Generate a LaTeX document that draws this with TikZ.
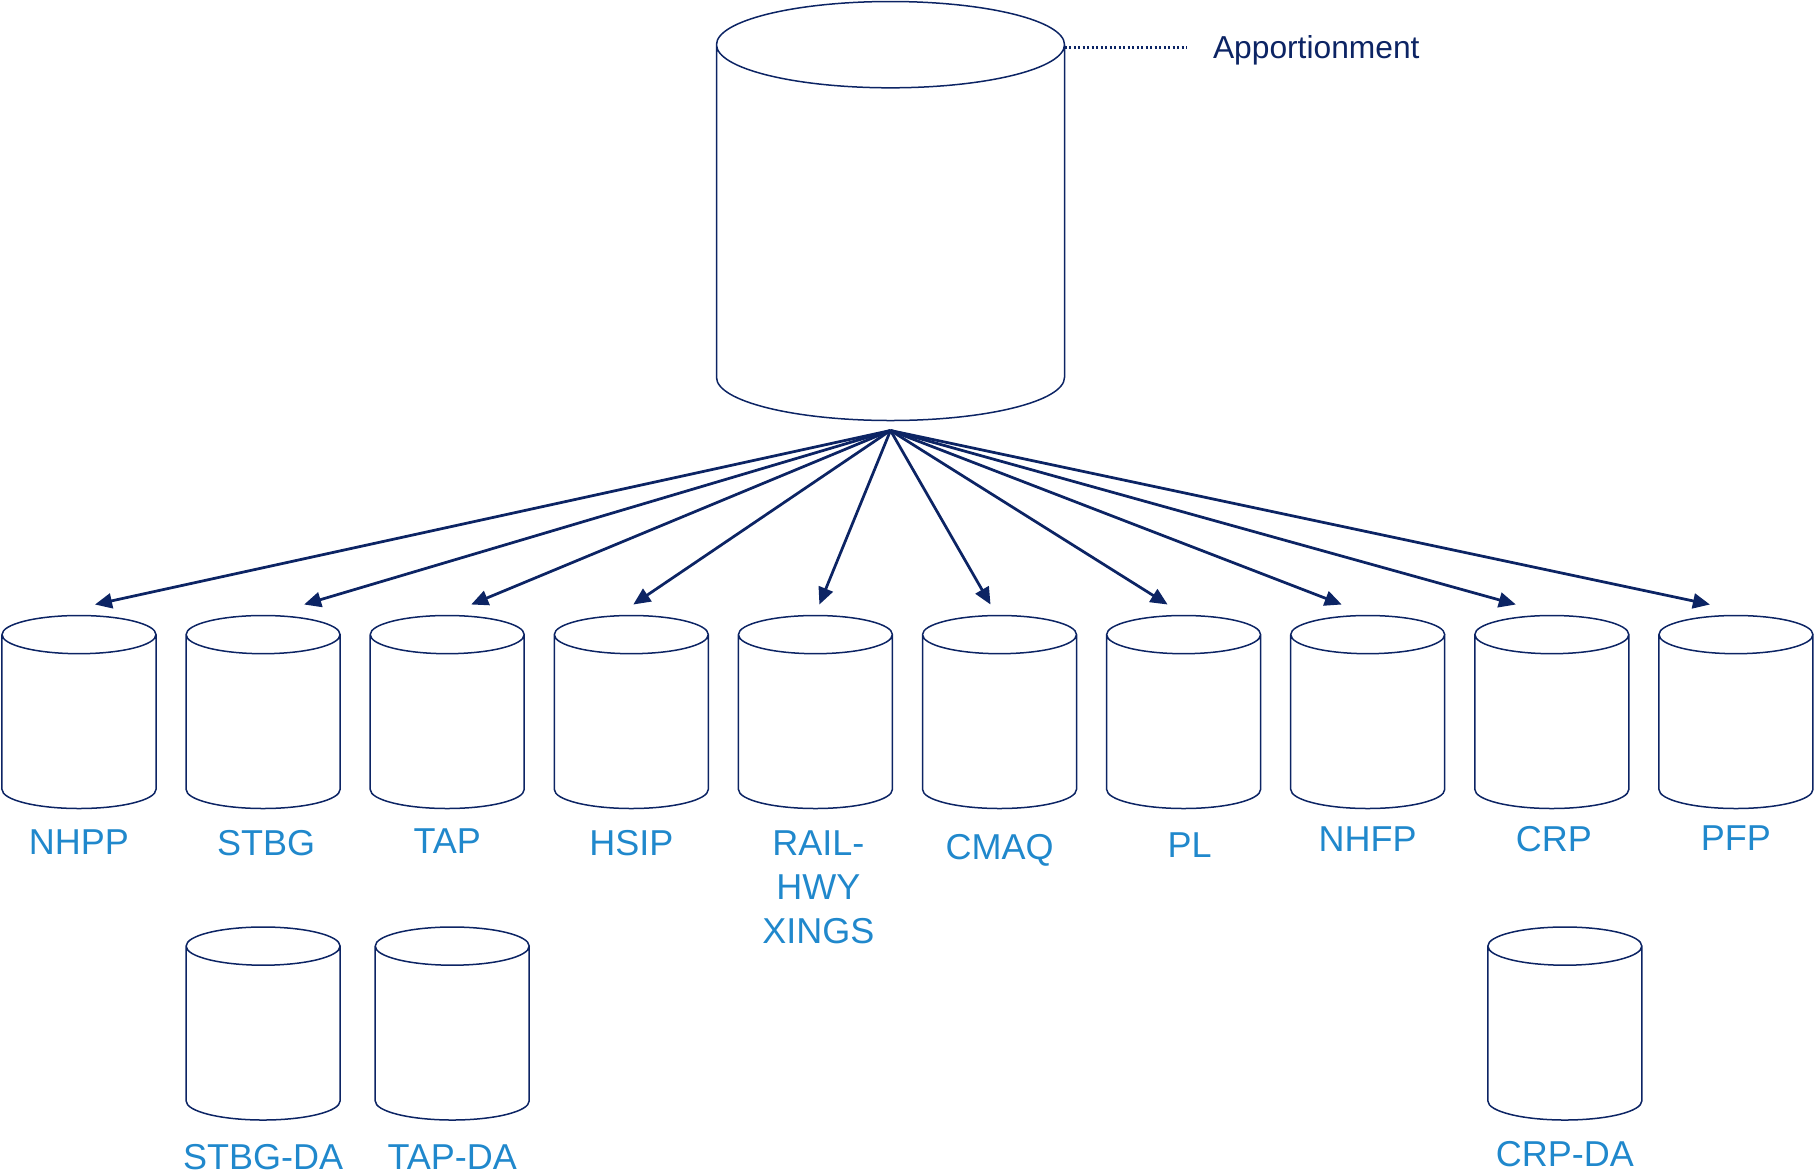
\documentclass[tikz,border=0pt]{standalone}
\usepackage{fontspec}
\setmainfont{Liberation Sans}
\usetikzlibrary{arrows.meta,positioning,calc}

\definecolor{navy}{HTML}{0C2464}
\definecolor{progblue}{HTML}{2088CC}

\begin{document}
\begin{tikzpicture}[x=0.4pt,y=-0.4pt,>={Triangle[length=6.8pt,width=6pt]},
    drum/.style={rectangle,inner sep=0pt,minimum width=61.2pt,minimum height=76.8pt},
    big drum/.style={drum,minimum width=138.8pt,minimum height=167.2pt},
    outline/.style={draw=navy,line width=0.6pt},
    prog/.style={text=progblue,font=\fontsize{14.4}{17.6}\selectfont,inner sep=0pt,align=center},
    feed/.style={->,draw=navy,line width=1.1pt},
    leader/.style={draw=navy,line width=0.9pt,dash pattern=on 0.9pt off 0.9pt}]

  \useasboundingbox (0,0) rectangle (1814,1174);

  % source of all programs
  \node[big drum] (appt) at (890.5,211) {};
  \coordinate (appt-rim) at ([yshift=-18.4pt]appt.north east);
  \node[inner sep=0pt,text=navy,font=\fontsize{12.7}{15}\selectfont,
        right=59.2pt of appt-rim,yshift=-1.2pt] (appt-lbl) {Apportionment};
  \draw[leader,shorten >=10.4pt] (appt-rim) -- (appt-rim -| appt-lbl.west);
  \coordinate (src) at ([yshift=-4pt]appt.south);

  % program row
  \node[drum] (nhpp) at (79,712) {};
  \node[drum,on grid,right=73.64pt of nhpp] (stbg) {};
  \node[drum,on grid,right=73.64pt of stbg] (tap) {};
  \node[drum,on grid,right=73.64pt of tap] (hsip) {};
  \node[drum,on grid,right=73.64pt of hsip] (rail) {};
  \node[drum,on grid,right=73.64pt of rail] (cmaq) {};
  \node[drum,on grid,right=73.64pt of cmaq] (pl) {};
  \node[drum,on grid,right=73.64pt of pl] (nhfp) {};
  \node[drum,on grid,right=73.64pt of nhfp] (crp) {};
  \node[drum,on grid,right=73.64pt of crp] (pfp) {};

  \node[prog,below=8.4pt of nhpp] (nhpp-lbl) {NHPP};
  \node[prog,below=8.4pt of stbg,xshift=1.2pt] (stbg-lbl) {STBG};
  \node[prog,below=8pt of tap] (tap-lbl) {TAP};
  \node[prog,below=8.4pt of hsip] (hsip-lbl) {HSIP};
  \node[prog,below=8.8pt of rail,xshift=1.2pt] (rail-lbl) {RAIL-\\HWY\\XINGS};
  \node[prog,below=10pt of cmaq] (cmaq-lbl) {CMAQ};
  \node[prog,below=9.6pt of pl,xshift=2.4pt] (pl-lbl) {PL};
  \node[prog,below=7.2pt of nhfp] (nhfp-lbl) {NHFP};
  \node[prog,below=6.8pt of crp,xshift=0.8pt] (crp-lbl) {CRP};
  \node[prog,below=6.8pt of pfp] (pfp-lbl) {PFP};

  % discretionary
  \node[drum,on grid,below=124.6pt of stbg] (stbg-da) {};
  \node[drum,on grid,below=124.6pt of tap,xshift=2pt] (tap-da) {};
  \node[drum,on grid,below=124.6pt of crp,xshift=5.2pt] (crp-da) {};

  \node[prog,below=9.6pt of stbg-da] (stbg-da-lbl) {STBG-DA};
  \node[prog,below=9.6pt of tap-da] (tap-da-lbl) {TAP-DA};
  \node[prog,below=8.4pt of crp-da] (crp-da-lbl) {CRP-DA};

  % the drums themselves
  \foreach \d in {appt,nhpp,stbg,tap,hsip,rail,cmaq,pl,nhfp,crp,pfp,stbg-da,tap-da,crp-da}
    \draw[outline] let \p1=(\d.north west),\p2=(\d.south east),
        \n1={(\x2-\x1)/2},\n2={0.248*\n1} in
      (\x1,\y1-\n2) arc[start angle=180,end angle=540,x radius=\n1,y radius=\n2]
      (\x1,\y1-\n2) -- (\x1,\y2+\n2) arc[start angle=180,end angle=360,x radius=\n1,y radius=\n2]
      -- (\x2,\y1-\n2);

  \foreach \n/\dx in {nhpp/16,stbg/41,tap/24,hsip/2,rail/4,cmaq/-9,pl/-16,nhfp/-26,crp/-36,pfp/-26}
    \path (src) edge[feed] ([shift={(\dx,-11)}]\n.north);

\end{tikzpicture}
\end{document}
